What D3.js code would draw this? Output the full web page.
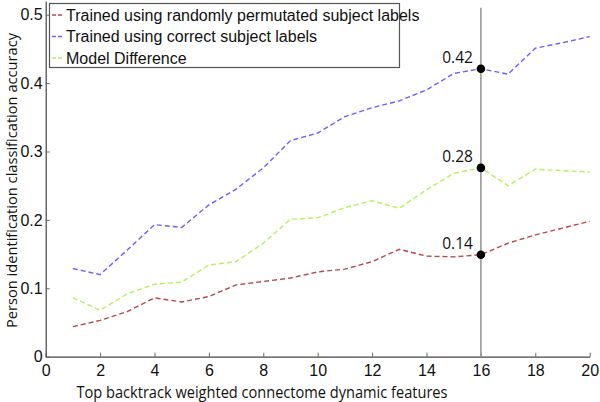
<!DOCTYPE html>
<html>
<head>
<meta charset="utf-8">
<script src="https://cdn.jsdelivr.net/npm/d3@7/dist/d3.min.js"></script>
<style>
html,body{margin:0;padding:0;background:#fff;}
svg{display:block;}
</style>
</head>
<body>
<svg id="chart" width="600" height="402"></svg>
<script>
const features = [1,2,3,4,5,6,7,8,9,10,11,12,13,14,15,16,17,18,19,20];
const randomLabels = [0.044,0.053,0.066,0.086,0.080,0.088,0.105,0.110,0.115,0.124,0.128,0.139,0.157,0.147,0.146,0.149,0.166,0.178,0.188,0.198];
const correctLabels = [0.129,0.120,0.156,0.193,0.189,0.222,0.245,0.276,0.316,0.327,0.351,0.364,0.374,0.390,0.414,0.421,0.413,0.451,0.459,0.468];
const modelDiff = [0.086,0.068,0.092,0.106,0.109,0.134,0.139,0.166,0.201,0.203,0.218,0.228,0.217,0.244,0.268,0.276,0.250,0.274,0.272,0.270];
const seriesNames = ["Trained using randomly permutated subject labels","Trained using correct subject labels","Model Difference"];
const seriesColors = ["#b84848","#6a60ff","#b4f25a"];
const xTicks = [0,2,4,6,8,10,12,14,16,18,20];
const yTicks = [0,0.1,0.2,0.3,0.4,0.5];
const yTickLabels = ["0","0.1","0.2","0.3","0.4","0.5"];
const markerX = 16;
const markerLabels = ["0.14","0.42","0.28"];
const xLabel = "Top backtrack weighted connectome dynamic features";
const yLabel = "Person identification classification accuracy";

const svg = d3.select("#chart");
const x = d3.scaleLinear().domain([0,20]).range([45.7,589.7]);
const y = d3.scaleLinear().domain([0,0.52]).range([356.7,1.0]);

// axes
const xAxis = d3.axisBottom(x).tickValues(xTicks).tickFormat(d3.format("d")).tickSizeInner(-4).tickSizeOuter(0).tickPadding(8);
const gx = svg.append("g").attr("transform",`translate(0,${y(0)})`).call(xAxis);
const yAxis = d3.axisLeft(y).tickValues(yTicks).tickFormat((d,i)=>yTickLabels[i]).tickSizeInner(-4).tickSizeOuter(0).tickPadding(3);
const gy = svg.append("g").attr("transform",`translate(${x(0)},0)`).call(yAxis);
[gx,gy].forEach(g=>{
  g.select(".domain").attr("stroke","#444").attr("stroke-width",1.2);
  g.selectAll(".tick line").attr("stroke","#666").attr("stroke-width",1);
  g.selectAll(".tick text").attr("fill","#111").style("font-family","'Liberation Sans', Arial, sans-serif").style("font-size","16px");
});

// vertical marker line
svg.append("line")
  .attr("x1",x(markerX)).attr("x2",x(markerX))
  .attr("y1",y(0.51)).attr("y2",y(0))
  .attr("stroke","#9a9a9a").attr("stroke-width",1.6);

// series
const allSeries = [randomLabels, correctLabels, modelDiff];
const line = d3.line().x((d,i)=>x(features[i])).y(d=>y(d));
allSeries.forEach((s,k)=>{
  svg.append("path").datum(s)
    .attr("d",line)
    .attr("fill","none")
    .attr("stroke",seriesColors[k])
    .attr("stroke-width",1.4)
    .attr("stroke-dasharray","5,3");
});

// markers at x=16
const idx = features.indexOf(markerX);
allSeries.forEach((s,k)=>{
  const cx = x(markerX), cy = y(s[idx]);
  svg.append("circle").attr("cx",cx).attr("cy",cy).attr("r",4.3).attr("fill","#000");
  svg.append("text").attr("x",cx-8).attr("y",cy-6)
    .attr("text-anchor","end")
    .style("font-family","'Open Sans', sans-serif").style("font-size","15.5px").attr("fill","#111")
    .text(markerLabels[k]);
});

// legend
const lg = svg.append("g");
lg.append("rect").attr("x",49.5).attr("y",3.5).attr("width",350).attr("height",64)
  .attr("fill","#fff").attr("stroke","#555").attr("stroke-width",1.2);
const rowY = [15,36.5,58];
seriesNames.forEach((n,k)=>{
  lg.append("line").attr("x1",52).attr("x2",64).attr("y1",rowY[k]).attr("y2",rowY[k])
    .attr("stroke",seriesColors[k]).attr("stroke-width",1.3).attr("stroke-dasharray","4,2");
  lg.append("text").attr("x",66).attr("y",rowY[k]+5.5)
    .style("font-family","'Liberation Sans', Arial, sans-serif").style("font-size","16px").attr("fill","#111")
    .text(n);
});

// axis labels
svg.append("text").attr("x",76.5).attr("y",397.5)
  .attr("textLength",371).attr("lengthAdjust","spacingAndGlyphs")
  .style("font-family","'Open Sans', sans-serif").style("font-size","15.5px").attr("fill","#111")
  .text(xLabel);
svg.append("text").attr("transform","translate(16.5,328) rotate(-90)")
  .attr("x",0).attr("y",0)
  .attr("textLength",295).attr("lengthAdjust","spacingAndGlyphs")
  .style("font-family","'Open Sans', sans-serif").style("font-size","15px").attr("fill","#111")
  .text(yLabel);
</script>
</body>
</html>
